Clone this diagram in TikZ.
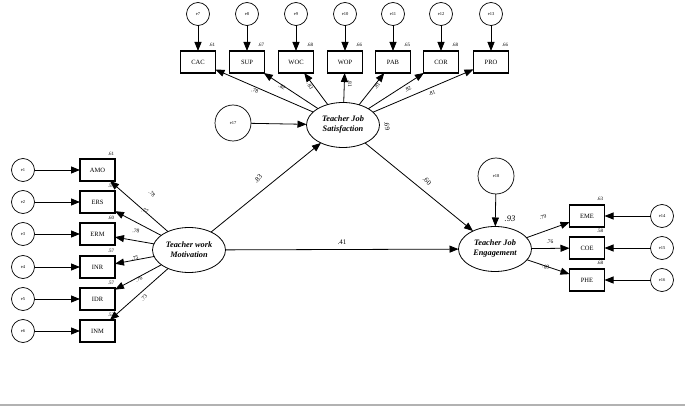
\documentclass[tikz,border=0pt]{standalone}
\usepackage{fontspec}
\setmainfont{Liberation Serif}
\usetikzlibrary{arrows.meta,shapes.geometric}
\begin{document}
\begin{tikzpicture}[x=1pt,y=-1pt,
  every node/.style={inner sep=0pt,outer sep=0pt},
  obs/.style={draw,line width=1.1pt,minimum width=35pt,minimum height=22pt,font=\fontsize{6.5}{7}\selectfont},
  err/.style={draw,circle,line width=0.7pt,minimum size=23pt,font=\fontsize{4.5}{5}\selectfont},
  errbig/.style={draw,circle,line width=0.7pt,minimum size=36pt,font=\fontsize{4.5}{5}\selectfont},
  lat/.style={draw,ellipse,line width=0.8pt,minimum width=73pt,minimum height=45pt,align=center,font=\fontsize{8.3}{10}\selectfont\bfseries\itshape},
  arr/.style={-{Triangle[length=9pt,width=7pt]},line width=0.8pt},
  lab/.style={font=\fontsize{5.5}{6}\selectfont},
  r2/.style={font=\fontsize{5}{6}\selectfont}]
\useasboundingbox (0,0) rectangle (685,406);
\fill[white] (0,0) rectangle (685,406);
\draw[gray!60,line width=1.2pt] (0,405) -- (685,405);

% latent variables
\node[lat] (sat) at (343,125) {Teacher Job\\Satisfaction};
\node[lat] (mot) at (189,250) {Teacher work\\Motivation};
\node[lat] (eng) at (495,249) {Teacher Job\\Engagement};
\node[errbig] (e17) at (233,123) {e17};
\node[errbig] (e18) at (496,176) {e18};

% top indicators
\foreach \n/\x/\e/\r [count=\i] in {CAC/198/e7/.61, SUP/247/e8/.67, WOC/296/e9/.68, WOP/345/e10/.66, PAB/393/e11/.65, COR/441/e12/.68, PRO/491/e13/.66}{
  \node[obs] (t\i) at (\x,62) {\n};
  \node[err] (te\i) at (\x,14) {\e};
  \draw[arr] (te\i) -- (t\i);
  \node[r2] at (\x+14,45) {\r};
}

% left indicators
\foreach \n/\y/\e/\r [count=\i] in {AMO/170/e1/.61, ERS/202/e2/.59, ERM/234/e3/.60, INR/267/e4/.57, IDR/299/e5/.57, INM/331/e6/.53}{
  \node[obs] (l\i) at (97.5,\y) {\n};
  \node[err] (le\i) at (23,\y) {\e};
  \draw[arr] (le\i) -- (l\i);
  \node[r2] at (111,\y-16) {\r};
}

% right indicators
\foreach \n/\y/\e/\r [count=\i] in {EME/216/e14/.63, COE/248/e15/.58, PHE/280/e16/.68}{
  \node[obs] (r\i) at (587,\y) {\n};
  \node[err] (re\i) at (662,\y) {\e};
  \draw[arr] (re\i) -- (r\i);
  \node[r2] at (600,\y-17) {\r};
}

% loadings top
\foreach \i in {1,...,7}{\draw[arr] (sat) -- (t\i);}
\node[lab,rotate=-22] at (255,91) {.78};
\node[lab,rotate=-35] at (282,87) {.82};
\node[lab,rotate=-60] at (310,86) {.83};
\node[lab,rotate=-90] at (350,84) {.81};
\node[lab,rotate=55] at (377,86) {.81};
\node[lab,rotate=30] at (408,89) {.82};
\node[lab,rotate=18] at (432,93) {.81};
\node[lab,font=\fontsize{7}{8}\selectfont,rotate=-80] at (387,126) {.69};

% loadings left
\foreach \i in {1,...,6}{\draw[arr] (mot) -- (l\i);}
\node[lab,rotate=-45] at (152,194) {.78};
\node[lab,rotate=-25] at (145,211) {.77};
\node[lab,rotate=-10] at (136,231) {.78};
\node[lab,rotate=10] at (135,258) {.75};
\node[lab,rotate=25] at (139,279) {.76};
\node[lab,rotate=45] at (144,298) {.73};

% loadings right
\foreach \i in {1,...,3}{\draw[arr] (eng) -- (r\i);}
\node[lab,rotate=15] at (543,217) {.79};
\node[lab] at (550,242) {.76};
\node[lab,rotate=-15] at (546,267) {.83};

% structural paths
\draw[arr] (e17) -- (sat);
\draw[arr] (e18) -- (eng);
\draw[arr] (mot) -- (sat);
\draw[arr] (mot) -- (eng);
\draw[arr] (sat) -- (eng);
\node[lab,font=\fontsize{7}{8}\selectfont,rotate=45] at (258,179) {.83};
\node[lab,font=\fontsize{7}{8}\selectfont,rotate=-45] at (427,181) {.60};
\node[lab,font=\fontsize{7}{8}\selectfont] at (342,242) {.41};
\node[font=\fontsize{8.5}{9}\selectfont\itshape] at (510,219) {.93};
\end{tikzpicture}
\end{document}
